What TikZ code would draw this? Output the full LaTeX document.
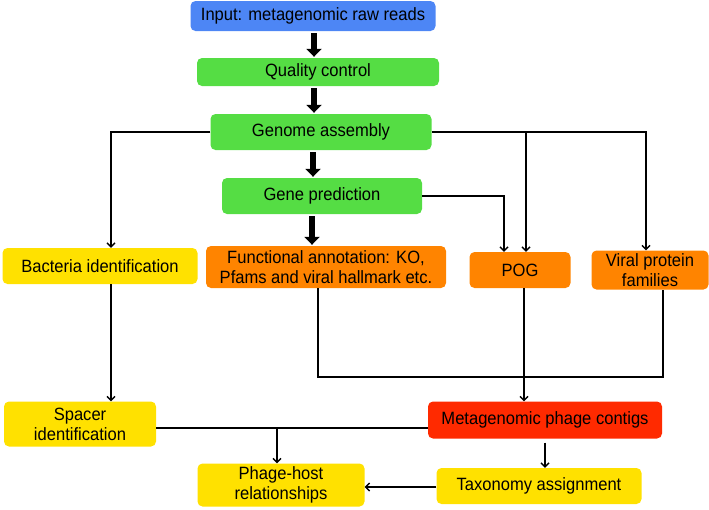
\documentclass[tikz,border=0pt]{standalone}
\usepackage{fontspec}
\setmainfont[FakeStretch=0.93]{Liberation Sans}
\usetikzlibrary{arrows.meta}

\definecolor{inblue}{HTML}{4D86F5}
\definecolor{stepgreen}{HTML}{55DD44}
\definecolor{annyellow}{HTML}{FFE100}
\definecolor{annorange}{HTML}{FF8400}
\definecolor{phagered}{HTML}{FF2A00}

\tikzset{
  box/.style={rounded corners=5pt, inner sep=2pt, align=center,
    font=\fontsize{17.8}{20}\selectfont},
  bigarrow/.style={line width=5.5pt, -{Triangle[length=8pt,width=15pt]}, shorten <=2pt, shorten >=1pt},
  thin/.style={line width=1.4pt},
  thinarrow/.style={thin, -{Straight Barb[length=4pt,width=8pt]}}
}

\begin{document}
\begin{tikzpicture}[x=1pt,y=-1pt]
  \useasboundingbox (0,0) rectangle (709,509);
  % main pipeline
  \node[box, fill=inblue, minimum width=245pt, minimum height=30pt] (input) at (313,16) {Input: metagenomic raw reads};
  \node[box, fill=stepgreen, minimum width=242pt, minimum height=28pt] (qc) at (318,72) {Quality control};
  \node[box, fill=stepgreen, minimum width=221pt, minimum height=36pt] (ga) at (321,132) {Genome assembly};
  \node[box, fill=stepgreen, minimum width=200pt, minimum height=36pt] (gp) at (322,196) {Gene prediction};
  % annotation row
  \node[box, fill=annyellow, minimum width=195pt, minimum height=36pt] (bact) at (100,266) {Bacteria identification};
  \node[box, fill=annorange, minimum width=240pt, minimum height=42pt] (func) at (326,267) {Functional annotation: KO,\\Pfams and viral hallmark etc.};
  \node[box, fill=annorange, minimum width=101pt, minimum height=36pt] (pog) at (520,270) {POG};
  \node[box, fill=annorange, minimum width=117pt, minimum height=39pt] (vpf) at (650,270) {Viral protein\\families};
  % lower part
  \node[box, fill=annyellow, minimum width=152pt, minimum height=45pt] (spacer) at (80,424) {Spacer\\identification};
  \node[box, fill=phagered, minimum width=234pt, minimum height=37pt] (meta) at (545,420) {Metagenomic phage contigs};
  \node[box, fill=annyellow, minimum width=205pt, minimum height=36pt] (tax) at (539,486) {Taxonomy assignment};
  \node[box, fill=annyellow, minimum width=167pt, minimum height=43pt] (host) at (281,485) {Phage-host\\relationships};

  % thick arrows
  \draw[bigarrow] (input.south -| 314,0) -- (qc.north -| 314,0);
  \draw[bigarrow] (qc.south -| 314,0) -- (ga.north -| 314,0);
  \draw[bigarrow] (ga.south -| 313,0) -- (gp.north -| 313,0);
  \draw[bigarrow] (gp.south -| 312,0) -- (func.north -| 312,0);

  % branches from genome assembly
  \draw[thinarrow] (ga.west) -| (bact.north -| 111,0);
  \draw[thinarrow] (ga.east) -| (vpf.north -| 646,0);
  \draw[thinarrow] (ga.east -| 526,0) -- (pog.north -| 526,0);
  \draw[thinarrow] (gp.east) -| (pog.north -| 504,0);

  % collecting into phage contigs
  \coordinate (join) at (524,377);
  \draw[thin] (func.south -| 318,0) |- (join) -| (vpf.south -| 663,0);
  \draw[thinarrow] (pog.south -| 524,0) -- (meta.north -| 524,0);
  \draw[thinarrow] (bact.south -| 111,0) -- (spacer.north -| 111,0);

  % host prediction
  \coordinate (split) at (277,428);
  \draw[thin] (spacer.east |- split) -- (meta.west |- split);
  \draw[thinarrow] (split) -- (host.north -| split);
  \draw[thinarrow] ([yshift=-4pt]meta.south -| 545,0) -- (tax.north -| 545,0);
  \draw[thinarrow] (tax.west |- 0,487) -- (host.east |- 0,487);
\end{tikzpicture}
\end{document}
